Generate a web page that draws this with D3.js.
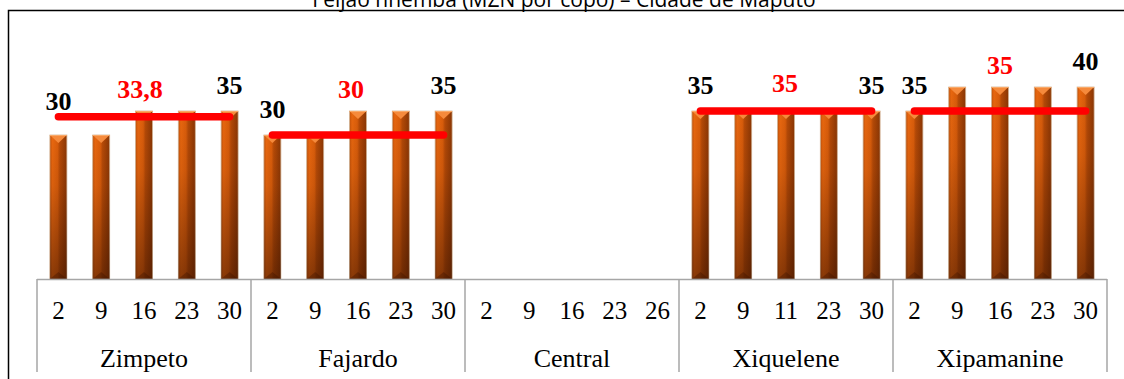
<!DOCTYPE html>
<html>
<head>
<meta charset="utf-8">
<script src="https://cdn.jsdelivr.net/npm/d3@7"></script>
<style>
html,body{margin:0;background:#fff}
svg text{font-family:"Liberation Serif",serif !important}
svg text.ttl{font-family:"Open Sans",sans-serif !important}
</style>
</head>
<body>
<svg id="chart" width="1124" height="379"></svg>
<script>
// ---- data ----
const title = "Feijão nhemba (MZN por copo) – Cidade de Maputo";
const groups = ["Zimpeto", "Fajardo", "Central", "Xiquelene", "Xipamanine"];
const days = [
  ["2", "9", "16", "23", "30"],
  ["2", "9", "16", "23", "30"],
  ["2", "9", "16", "23", "26"],
  ["2", "9", "11", "23", "30"],
  ["2", "9", "16", "23", "30"]
];
const prices = [
  [30, 30, 35, 35, 35],
  [30, 30, 35, 35, 35],
  [null, null, null, null, null],
  [35, 35, 35, 35, 35],
  [35, 40, 40, 40, 40]
];
const averages = [33.8, 30, null, 35, 35];
const averageLabels = ["33,8", "30", null, "35", "35"];

// ---- layout helpers (pixels, not data) ----
const firstLabelLift = [25, 17, 0, 17, 17];
const avgLabelLift = [19, 37, 0, 19, 37];
const avgLabelShift = [-4, -7, 0, -1, 0];

const SERIF = '"Liberation Serif", serif';
const svg = d3.select("#chart");
const W = 1124, H = 379;
const axisY = 279;
const left = 37, right = 1107;

function serifText(sel, size, weight) {
  return sel.each(function () {
    this.style.setProperty("font-family", SERIF, "important");
    this.style.setProperty("font-size", size + "px", "important");
    this.style.setProperty("font-weight", weight || "normal", "important");
  });
}

// scales
const x0 = d3.scaleBand().domain(groups).range([left, right]).paddingInner(0).paddingOuter(0);
const x1 = d3.scaleBand().domain(d3.range(5)).range([0, x0.bandwidth()]).paddingInner(0).paddingOuter(0);
const y = d3.scaleLinear().domain([0, 50]).range([axisY, 39]);
const barW = 17;

// frame
svg.append("path")
  .attr("d", `M8.5,${H} L8.5,10.5 L${W},10.5`)
  .attr("fill", "none").attr("stroke", "#000").attr("stroke-width", 1.5);

// title (clipped at top as in the reference)
svg.append("text").attr("class", "ttl")
  .attr("x", 564).attr("y", 7)
  .attr("text-anchor", "middle")
  .style("font-size", "21px")
  .attr("fill", "#000")
  .text(title);

// gradients
const defs = svg.append("defs");
const gh = defs.append("linearGradient").attr("id", "barH").attr("x1", "0").attr("x2", "1").attr("y1", "0").attr("y2", "0");
[["0%", "#c2520a"], ["15%", "#e8670f"], ["45%", "#d95d0b"], ["58%", "#b54a07"], ["100%", "#8a3604"]]
  .forEach(([o, c]) => gh.append("stop").attr("offset", o).attr("stop-color", c));
const gv = defs.append("linearGradient").attr("id", "barV").attr("x1", "0").attr("x2", "0").attr("y1", "0").attr("y2", "1");
[["0%", 0], ["35%", 0.08], ["100%", 0.5]]
  .forEach(([o, a]) => gv.append("stop").attr("offset", o).attr("stop-color", "#2a0c00").attr("stop-opacity", a));

// bars
const barData = [];
groups.forEach((g, gi) => {
  prices[gi].forEach((v, i) => {
    if (v != null) barData.push({ g, gi, i, v });
  });
});

const bars = svg.append("g").selectAll("g").data(barData).join("g")
  .attr("transform", d => `translate(${x0(d.g) + x1(d.i) + x1.bandwidth() / 2 - barW / 2},0)`);

bars.append("rect")
  .attr("x", 0).attr("y", d => y(d.v))
  .attr("width", barW).attr("height", d => axisY - y(d.v))
  .attr("fill", "url(#barH)")
  .attr("stroke", "#d2b394").attr("stroke-width", 0.8);
bars.append("rect")
  .attr("x", 0).attr("y", d => y(d.v))
  .attr("width", barW).attr("height", d => axisY - y(d.v))
  .attr("fill", "url(#barV)");
bars.append("path")
  .attr("d", d => `M0,${y(d.v)} L${barW},${y(d.v)} L${barW / 2},${y(d.v) + 8} Z`)
  .attr("fill", "#f58a3c");
bars.append("line")
  .attr("x1", 0).attr("x2", barW)
  .attr("y1", d => y(d.v) + 0.5).attr("y2", d => y(d.v) + 0.5)
  .attr("stroke", "#f9a866").attr("stroke-width", 1);
bars.append("path")
  .attr("d", d => `M0,${axisY} L${barW},${axisY} L${barW / 2},${axisY - 7} Z`)
  .attr("fill", "#3a1200").attr("opacity", 0.35);

// axis frame lines
const axisG = svg.append("g");
axisG.append("line")
  .attr("x1", left).attr("x2", right).attr("y1", axisY + 0.5).attr("y2", axisY + 0.5)
  .attr("stroke", "#a6a6a6").attr("stroke-width", 1.5);
const seps = groups.map(g => x0(g)).concat([right]);
axisG.selectAll("line.sep").data(seps).join("line").attr("class", "sep")
  .attr("x1", d => d).attr("x2", d => d)
  .attr("y1", axisY).attr("y2", 372)
  .attr("stroke", "#a6a6a6").attr("stroke-width", 1.5);

// tick labels (days)
groups.forEach((g, gi) => {
  axisG.append("g").selectAll("text").data(days[gi]).join("text")
    .attr("x", (d, i) => x0(g) + x1(i) + x1.bandwidth() / 2)
    .attr("y", 319)
    .attr("text-anchor", "middle")
    .attr("fill", "#000")
    .text(d => d)
    .call(serifText, 25);
});
// category labels
axisG.selectAll("text.cat").data(groups).join("text").attr("class", "cat")
  .attr("x", g => x0(g) + x0.bandwidth() / 2)
  .attr("y", 367)
  .attr("text-anchor", "middle")
  .attr("fill", "#000")
  .text(g => g)
  .call(serifText, 26);

// average lines
const cx = (gi, i) => x0(groups[gi]) + x1(i) + x1.bandwidth() / 2;
const avgData = averages.map((a, gi) => ({ a, gi })).filter(d => d.a != null);
svg.append("g").selectAll("line").data(avgData).join("line")
  .attr("x1", d => cx(d.gi, 0)).attr("x2", d => cx(d.gi, 4))
  .attr("y1", d => y(d.a)).attr("y2", d => y(d.a))
  .attr("stroke", "#ff0000").attr("stroke-width", 7.5).attr("stroke-linecap", "round");

// average labels
svg.append("g").selectAll("text").data(avgData).join("text")
  .attr("x", d => cx(d.gi, 2) + avgLabelShift[d.gi])
  .attr("y", d => y(d.a) - avgLabelLift[d.gi])
  .attr("text-anchor", "middle")
  .attr("fill", "#ff0000")
  .text(d => averageLabels[d.gi])
  .call(serifText, 26, "bold");

// first / last value labels
const endData = [];
prices.forEach((arr, gi) => {
  if (arr[0] != null) endData.push({ gi, i: 0, v: arr[0], lift: firstLabelLift[gi] });
  if (arr[4] != null) endData.push({ gi, i: 4, v: arr[4], lift: 17 });
});
svg.append("g").selectAll("text").data(endData).join("text")
  .attr("x", d => cx(d.gi, d.i))
  .attr("y", d => y(d.v) - d.lift)
  .attr("text-anchor", "middle")
  .attr("fill", "#000")
  .text(d => String(d.v))
  .call(serifText, 26, "bold");
</script>
</body>
</html>
